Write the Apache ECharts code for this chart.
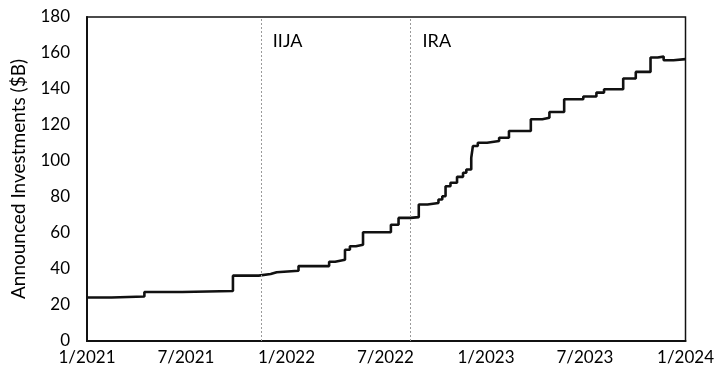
<!DOCTYPE html>
<html>
<head>
<meta charset="utf-8">
<script src="https://cdn.jsdelivr.net/npm/echarts@6/dist/echarts.min.js"></script>
<style>
  html, body { margin: 0; padding: 0; background: #fff; }
  #chart { width: 717px; height: 377px; }
</style>
</head>
<body>
<div id="chart"></div>
<script>
// Cumulative announced investments, each value holds from its date to the next one
const stepDates = [
  '2021-01-01', '2021-02-15', '2021-04-16', '2021-06-24', '2021-09-25',
  '2021-11-11', '2021-12-03', '2021-12-14', '2022-01-23', '2022-03-20',
  '2022-03-31', '2022-04-18', '2022-04-27', '2022-05-08', '2022-05-21',
  '2022-07-11', '2022-07-25', '2022-08-16', '2022-08-31', '2022-09-16',
  '2022-10-06', '2022-10-13', '2022-10-19', '2022-10-28', '2022-11-09',
  '2022-11-20', '2022-11-26', '2022-12-05', '2022-12-08', '2022-12-17',
  '2023-01-03', '2023-01-25', '2023-02-12', '2023-03-24', '2023-04-14',
  '2023-04-27', '2023-05-24', '2023-06-28', '2023-07-22', '2023-08-05',
  '2023-09-09', '2023-10-02', '2023-10-29', '2023-11-11', '2023-11-22',
  '2023-12-10', '2024-01-01'
];
const investments = [
  24.2, 24.7, 27.2, 27.8, 36.3,
  37.2, 38.2, 39.0, 41.6, 44.0,
  45.1, 50.7, 52.6, 53.5, 60.4,
  64.6, 68.4, 68.8, 75.8, 76.7,
  78.6, 80.4, 86.0, 87.9, 91.2,
  93.5, 95.3, 101.8, 108.3, 110.1,
  111.1, 112.9, 116.7, 123.2, 124.0,
  127.2, 134.3, 135.8, 138.0, 139.9,
  145.8, 149.5, 157.5, 158.0, 156.0,
  156.6, 156.6
];

// Policy milestones drawn as vertical reference lines
const eventNames = ['IIJA', 'IRA'];
const eventDates = ['2021-11-15', '2022-08-16'];

// Axis ticks
const xTickDates = ['2021-01-01', '2021-07-01', '2022-01-01', '2022-07-01', '2023-01-01', '2023-07-01', '2024-01-01'];
const yMin = 0, yMax = 180, yStep = 20;
const yAxisTitle = 'Announced Investments ($B)';

const ts = d => { const [y, m, dd] = d.split('-').map(Number); return Date.UTC(y, m - 1, dd); };
const FONT = 'Lato';
const INK = '#000';
const seriesData = stepDates.map((d, i) => [ts(d), investments[i]]);
const xTicks = xTickDates.map(ts);

const chart = echarts.init(document.getElementById('chart'), null, { renderer: 'canvas' });
chart.setOption({
  animation: false,
  backgroundColor: '#fff',
  textStyle: { fontFamily: FONT },
  grid: {
    left: 87, right: 27, top: 17, bottom: 36,
    show: true, borderColor: '#111', borderWidth: 1.5
  },
  xAxis: {
    // dates as UTC timestamps on a linear axis
    type: 'value',
    min: xTicks[0],
    max: xTicks[xTicks.length - 1],
    axisLine: { show: true, lineStyle: { color: '#111', width: 2 } },
    axisTick: { show: false },
    splitLine: { show: false },
    axisLabel: {
      customValues: xTicks,
      color: INK, fontFamily: FONT, fontSize: 17, margin: 8,
      formatter: v => { const d = new Date(v); return (d.getUTCMonth() + 1) + '/' + d.getUTCFullYear(); }
    }
  },
  yAxis: {
    type: 'value',
    min: yMin, max: yMax, interval: yStep,
    name: yAxisTitle,
    nameLocation: 'middle',
    nameGap: 59,
    nameTextStyle: { color: INK, fontFamily: FONT, fontSize: 19 },
    axisLine: { show: true, lineStyle: { color: '#111', width: 2 } },
    axisTick: { show: false },
    splitLine: { show: false },
    axisLabel: { color: INK, fontFamily: FONT, fontSize: 17, margin: 17 }
  },
  series: [{
    type: 'line',
    step: 'end',
    data: seriesData,
    showSymbol: false,
    lineStyle: { color: '#111', width: 2.6 },
    markLine: {
      silent: true,
      symbol: ['none', 'none'],
      label: { show: false },
      lineStyle: { color: '#9a9a9a', width: 1, type: [2, 2] },
      data: eventDates.map(d => ({ xAxis: ts(d) }))
    },
    markPoint: {
      silent: true,
      symbol: 'circle',
      symbolSize: 0,
      label: {
        show: true, position: 'right', distance: 12,
        color: INK, fontFamily: FONT, fontSize: 18,
        formatter: p => p.name
      },
      data: eventDates.map((d, i) => ({ name: eventNames[i], coord: [ts(d), 166.5] }))
    }
  }]
});
</script>
</body>
</html>
